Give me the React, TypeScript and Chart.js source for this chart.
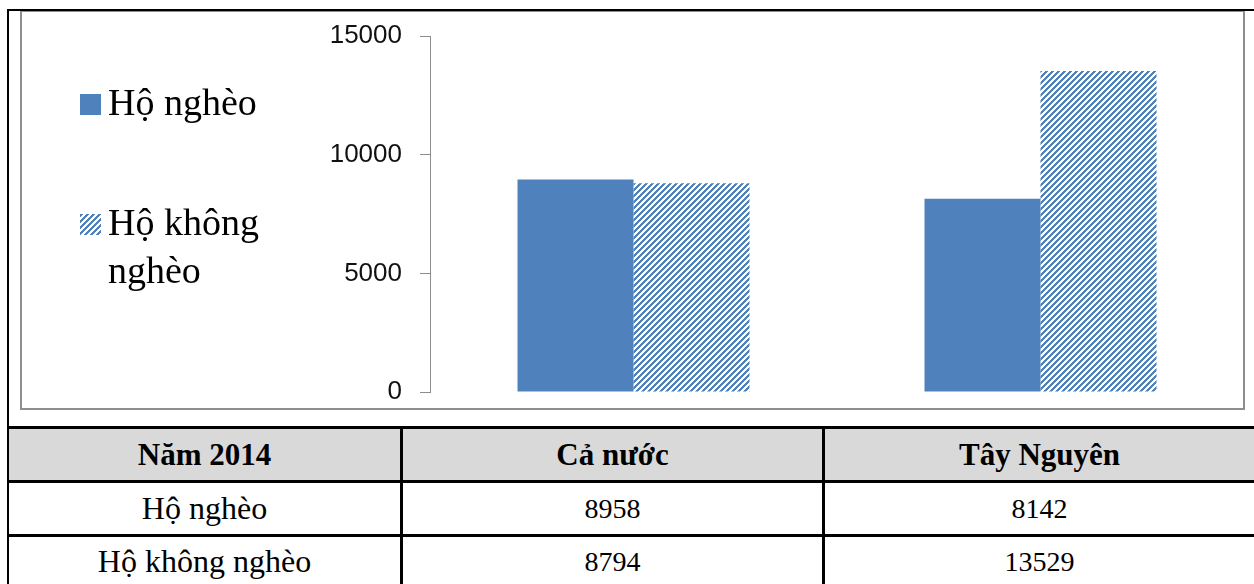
import React, { useEffect, useRef } from "react";
import { Chart, registerables } from "chart.js";

Chart.register(...registerables);

const tableCorner = "Năm 2014";
const categories = ["Cả nước", "Tây Nguyên"];
const seriesLabels = ["Hộ nghèo", "Hộ không nghèo"];
const poorValues = [8958, 8142];
const nonPoorValues = [8794, 13529];
const yTickValues = [0, 5000, 10000, 15000];

const BLUE = "#4f81bd";

function makeHatch(): CanvasPattern | string {
  const c = document.createElement("canvas");
  const p = 6;
  c.width = p;
  c.height = p;
  const ctx = c.getContext("2d");
  if (!ctx) return BLUE;
  ctx.fillStyle = "#ffffff";
  ctx.fillRect(0, 0, p, p);
  ctx.fillStyle = BLUE;
  for (let x = 0; x < p; x++) {
    for (let y = 0; y < p; y++) {
      if ((x + y) % p < 3) ctx.fillRect(x, y, 1, 1);
    }
  }
  return ctx.createPattern(c, "repeat") || BLUE;
}

function wrapText(ctx: CanvasRenderingContext2D, text: string, maxW: number): string[] {
  const words = text.split(" ");
  const lines: string[] = [];
  let cur = "";
  for (const w of words) {
    const test = cur ? cur + " " + w : w;
    if (ctx.measureText(test).width > maxW && cur) {
      lines.push(cur);
      cur = w;
    } else {
      cur = test;
    }
  }
  if (cur) lines.push(cur);
  return lines;
}

const sideLegend = {
  id: "sideLegend",
  afterDraw(chart: any) {
    const ctx: CanvasRenderingContext2D = chart.ctx;
    ctx.save();
    ctx.font = "38px 'Liberation Serif', serif";
    ctx.textBaseline = "alphabetic";
    ctx.textAlign = "left";
    const baselines = [115, 235];
    chart.data.datasets.forEach((ds: any, i: number) => {
      const base = baselines[i];
      ctx.fillStyle = ds.backgroundColor;
      ctx.fillRect(80, base - 21, 21, 21);
      ctx.fillStyle = "#000000";
      const lines = wrapText(ctx, ds.label, 200);
      lines.forEach((ln, j) => ctx.fillText(ln, 108, base + j * 48));
    });
    ctx.restore();
  },
};

const line = (left: number, top: number, width: number, height: number, color = "#000") => (
  <div style={{ position: "absolute", left, top, width, height, background: color }} />
);

export default function App() {
  const ref = useRef<HTMLCanvasElement | null>(null);

  useEffect(() => {
    let chart: Chart | null = null;
    let cancelled = false;
    const build = () => {
      if (cancelled || !ref.current) return;
      const hatch = makeHatch();
      chart = new Chart(ref.current, {
        type: "bar",
        data: {
          labels: categories,
          datasets: [
            {
              label: seriesLabels[0],
              data: poorValues,
              backgroundColor: BLUE,
              borderWidth: 0,
              categoryPercentage: 0.57,
              barPercentage: 1.0,
            },
            {
              label: seriesLabels[1],
              data: nonPoorValues,
              backgroundColor: hatch as any,
              borderWidth: 0,
              categoryPercentage: 0.57,
              barPercentage: 1.0,
            },
          ],
        },
        options: {
          responsive: false,
          animation: false,
          devicePixelRatio: 1,
          layout: { padding: { left: 0, top: 36, right: 10, bottom: 192 } },
          plugins: {
            legend: { display: false },
            tooltip: { enabled: false },
            title: { display: false },
          },
          scales: {
            x: { display: false, offset: true },
            y: {
              min: 0,
              max: 15000,
              afterBuildTicks: (scale: any) => {
                scale.ticks = yTickValues.map((v) => ({ value: v }));
              },
              afterFit: (scale: any) => {
                scale.width = 430;
              },
              ticks: {
                font: { family: "'Liberation Sans', sans-serif", size: 26 },
                color: "#111111",
                padding: 18,
                callback: (v: any) => String(v),
              },
              grid: {
                drawOnChartArea: false,
                drawTicks: true,
                tickLength: 10,
                color: "#8c8c8c",
                lineWidth: 1,
              },
              border: { display: true, color: "#8c8c8c", width: 1 },
            },
          },
        },
        plugins: [sideLegend],
      });
    };
    const fonts: any = (document as any).fonts;
    if (fonts && fonts.load) {
      Promise.all([
        fonts.load("38px 'Liberation Serif'"),
        fonts.load("26px 'Liberation Sans'"),
      ])
        .catch(() => null)
        .then(build);
    } else {
      build();
    }
    return () => {
      cancelled = true;
      if (chart) chart.destroy();
    };
  }, []);

  const rows = [
    [seriesLabels[0], poorValues[0], poorValues[1]],
    [seriesLabels[1], nonPoorValues[0], nonPoorValues[1]],
  ];
  const cols = [
    { left: 9, width: 391 },
    { left: 403, width: 419 },
    { left: 825, width: 429 },
  ];
  const rowBoxes = [
    { top: 429, height: 51 },
    { top: 483, height: 51 },
    { top: 537, height: 49 },
  ];
  const cellText = (text: string | number, r: number, c: number, bold: boolean) => (
    <div
      key={`${r}-${c}`}
      style={{
        position: "absolute",
        left: cols[c].left,
        width: cols[c].width,
        top: rowBoxes[r].top,
        height: rowBoxes[r].height,
        display: "flex",
        alignItems: "center",
        justifyContent: "center",
        fontFamily: "'Liberation Serif', serif",
        fontSize: typeof text === "number" ? 28 : bold ? 31 : 32,
        fontWeight: bold ? 700 : 400,
        color: "#000",
        whiteSpace: "nowrap",
      }}
    >
      {text}
    </div>
  );

  return (
    <div
      style={{
        position: "absolute",
        left: 0,
        top: 0,
        width: 1254,
        height: 584,
        overflow: "hidden",
        background: "#fff",
      }}
    >
      <div
        style={{
          position: "absolute",
          left: 20,
          top: 10,
          width: 1225,
          height: 400,
          border: "2px solid #8e8e8e",
          boxSizing: "border-box",
        }}
      />
      <div style={{ position: "absolute", left: 9, top: 429, width: 1245, height: 51, background: "#d9d9d9" }} />
      {line(7, 9, 1247, 2)}
      {line(7, 9, 2, 575)}
      {line(7, 426, 1247, 3)}
      {line(7, 480, 1247, 3)}
      {line(7, 534, 1247, 3)}
      {line(400, 426, 3, 158)}
      {line(822, 426, 3, 158)}
      {cellText(tableCorner, 0, 0, true)}
      {cellText(categories[0], 0, 1, true)}
      {cellText(categories[1], 0, 2, true)}
      {rows.map((row, r) => row.map((v, c) => cellText(v, r + 1, c, false)))}
      <canvas
        ref={ref}
        width={1254}
        height={584}
        style={{ position: "absolute", left: 0, top: 0, pointerEvents: "none" }}
      />
    </div>
  );
}
